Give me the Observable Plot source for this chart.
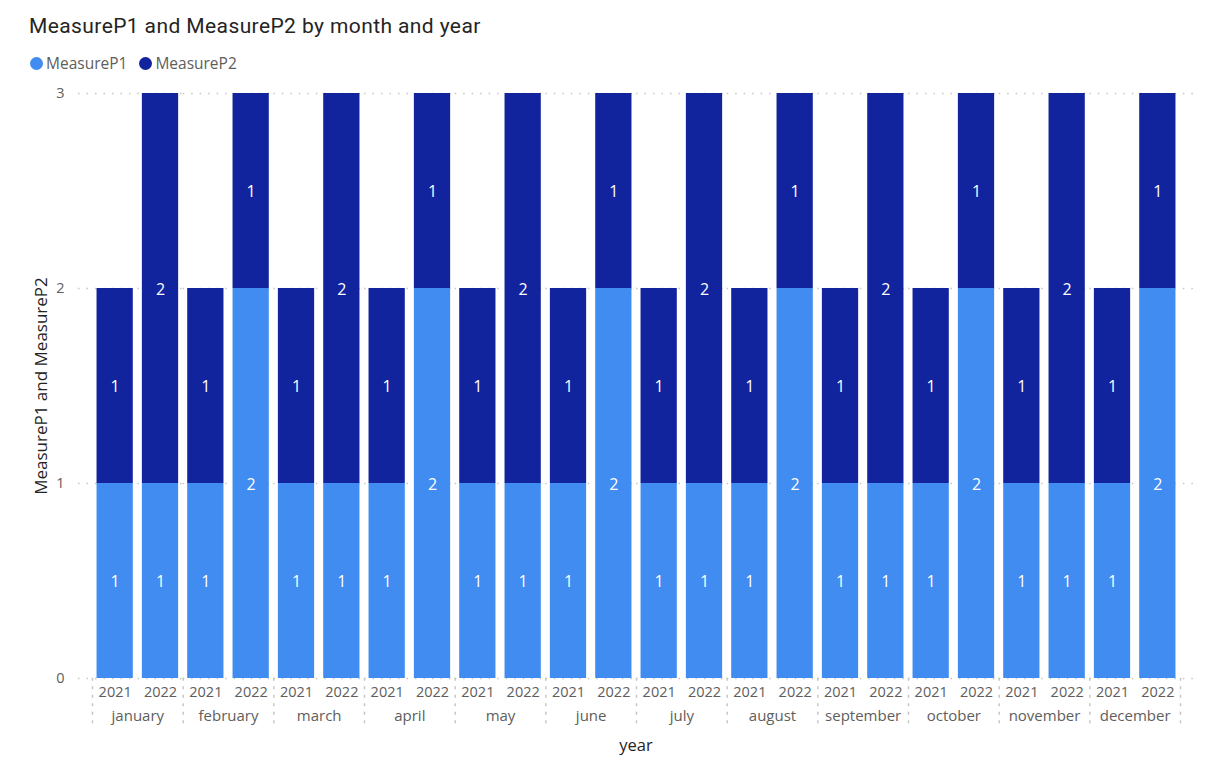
<!DOCTYPE html>
<html>
<head>
<meta charset="utf-8">
<script src="https://cdn.jsdelivr.net/npm/d3@7"></script>
<script src="https://cdn.jsdelivr.net/npm/@observablehq/plot@0.6"></script>
<style>
  html, body { margin: 0; padding: 0; background: #fff; }
  #wrap { position: relative; width: 1206px; height: 770px; overflow: hidden; font-family: "Open Sans", "Noto Sans", sans-serif; }
  #title { position: absolute; left: 29px; top: 14px; font-family: Roboto, "Open Sans", sans-serif; font-size: 21px; color: #252423; letter-spacing: 0.4px; white-space: nowrap; }
  #legend { position: absolute; left: 30px; top: 52px; display: flex; align-items: center; font-size: 15.5px; color: #605E5C; white-space: nowrap; }
  .item { display: flex; align-items: center; margin-right: 12px; }
  .dot { width: 13px; height: 13px; border-radius: 50%; margin-right: 3px; }
  #chart { position: absolute; left: 0; top: 80px; }
  #xlabel { position: absolute; left: 0; width: 1272px; top: 733px; text-align: center; font-size: 16.5px; color: #252423; }
</style>
</head>
<body>
<div id="wrap">
  <div id="title"></div>
  <div id="legend"></div>
  <div id="chart"></div>
  <div id="xlabel"></div>
</div>
<script>
const titleText = "MeasureP1 and MeasureP2 by month and year";
const months = ["january","february","march","april","may","june","july","august","september","october","november","december"];
const years = ["2021", "2022"];
const measures = ["MeasureP1", "MeasureP2"];
const colors = ["#418CF0", "#12239E"];
const measureP1_2021 = [1,1,1,1,1,1,1,1,1,1,1,1];
const measureP1_2022 = [1,2,1,2,1,2,1,2,1,2,1,2];
const measureP2_2021 = [1,1,1,1,1,1,1,1,1,1,1,1];
const measureP2_2022 = [2,1,2,1,2,1,2,1,2,1,2,1];
const yTicks = [0, 1, 2, 3];
const yLabel = "MeasureP1 and MeasureP2";
const xLabel = "year";

const series = {
  "MeasureP1": {"2021": measureP1_2021, "2022": measureP1_2022},
  "MeasureP2": {"2021": measureP2_2021, "2022": measureP2_2022}
};
const rows = [];
for (const m of measures) {
  months.forEach((month, i) => {
    for (const y of years) rows.push({month, year: y, measure: m, value: series[m][y][i]});
  });
}
const gridRows = months.flatMap(month => yTicks.map(tick => ({month, tick})));
const firstMonth = months[0], lastMonth = months[months.length - 1];

document.getElementById("title").textContent = titleText;
document.getElementById("xlabel").textContent = xLabel;
const legend = document.getElementById("legend");
measures.forEach((m, i) => {
  const it = document.createElement("div"); it.className = "item";
  const d = document.createElement("div"); d.className = "dot"; d.style.background = colors[i];
  const t = document.createElement("span"); t.textContent = m;
  it.append(d, t); legend.append(it);
});

const gridStyle = {stroke: "#c8c6c4", strokeWidth: 1.5, strokeDasharray: "1.5,7"};

const chart = Plot.plot({
  width: 1206,
  height: 690,
  marginTop: 13,
  marginBottom: 92,
  marginLeft: 92,
  marginRight: 26,
  style: {fontFamily: "'Open Sans', 'Noto Sans', sans-serif", fontSize: "14.5px", color: "#605E5C", background: "transparent"},
  fx: {domain: months, padding: 0, round: false, axis: null},
  x: {domain: years, paddingInner: 0.2, paddingOuter: 0.1, round: false, label: null, tickSize: 0, tickPadding: 8},
  y: {domain: [0, 3], axis: null},
  color: {domain: measures, range: colors},
  marks: [
    Plot.ruleY(gridRows.filter(d => d.month !== firstMonth && d.month !== lastMonth), {fx: "month", y: "tick", ...gridStyle}),
    Plot.ruleY(gridRows.filter(d => d.month === firstMonth), {fx: "month", y: "tick", ...gridStyle, insetLeft: -14}),
    Plot.ruleY(gridRows.filter(d => d.month === lastMonth), {fx: "month", y: "tick", ...gridStyle, insetRight: -15}),
    Plot.axisY({ticks: yTicks, tickFormat: d3.format("d"), tickSize: 0, tickPadding: 28, label: null, fontSize: 14.5, color: "#605E5C"}),
    Plot.axisY({ticks: [], label: yLabel, labelAnchor: "center", labelArrow: "none", labelOffset: 58, fontSize: 17, color: "#252423"}),
    Plot.barY(rows, Plot.stackY({fx: "month", x: "year", y: "value", z: "measure", fill: "measure"})),
    Plot.text(rows, Plot.stackY({fx: "month", x: "year", y: "value", z: "measure", text: d => String(d.value), fill: "white", fontSize: 16, dy: 1})),
    Plot.text(months, {fx: d => d, text: d => d, frameAnchor: "bottom", lineAnchor: "middle", dy: 38, fontSize: 15, fill: "#605E5C"}),
    Plot.frame({anchor: "left", ...gridStyle, insetTop: 585, insetBottom: -50}),
    Plot.frame({anchor: "right", fx: [lastMonth], ...gridStyle, insetTop: 585, insetBottom: -50})
  ]
});
document.getElementById("chart").append(chart);
</script>
</body>
</html>
